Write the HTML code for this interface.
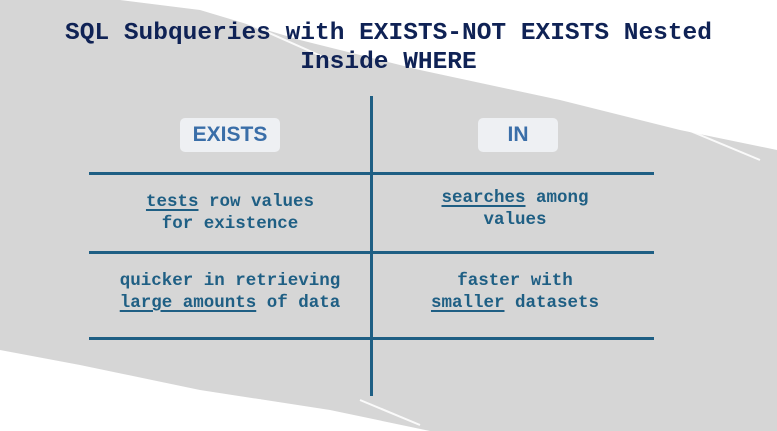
<!DOCTYPE html>
<html><head><style>
body{margin:0;width:777px;height:431px;overflow:hidden;background:#fff;position:relative;font-family:"Liberation Mono",monospace;}
.t{position:absolute;left:0;width:777px;text-align:center;color:#0f2255;font-weight:bold;font-size:24.5px;line-height:30px}
.h{position:absolute;background:#eef0f3;border-radius:5px;color:#3a6ea8;font-family:"Liberation Sans Narrow","Liberation Sans",sans-serif;font-weight:bold;font-size:21px;text-align:center;line-height:34px;height:34px;top:118px}
.c{position:absolute;color:#1f5f84;font-weight:bold;font-size:17.5px;line-height:22px;text-align:center;width:270px}
.c u{text-decoration-thickness:2px;text-underline-offset:3px}
.l{position:absolute;background:#1f5f84}
</style></head><body>
<svg width="777" height="431" style="position:absolute;left:0;top:0">
<polygon points="0,0 120,0 200,10 300,40 420,70 560,100 680,130 777,150 777,431 430,431 330,410 200,390 80,365 0,350" fill="#d6d6d6"/>
<g stroke="#fff" stroke-width="2" opacity=".9">
<line x1="240" y1="20" x2="330" y2="60"/><line x1="500" y1="60" x2="620" y2="110"/><line x1="640" y1="110" x2="760" y2="160"/>
<line x1="20" y1="355" x2="140" y2="400"/><line x1="360" y1="400" x2="420" y2="425"/><line x1="260" y1="400" x2="330" y2="431"/>
</g>
</svg>
<div class="t" style="top:19px">SQL Subqueries with EXISTS-NOT EXISTS Nested</div>
<div class="t" style="top:48px">Inside WHERE</div>
<div class="h" style="left:180px;width:100px">EXISTS</div>
<div class="h" style="left:478px;width:80px">IN</div>
<div class="l" style="left:370px;top:96px;width:3px;height:300px"></div>
<div class="l" style="left:89px;top:172px;width:565px;height:3px"></div>
<div class="l" style="left:89px;top:251px;width:565px;height:3px"></div>
<div class="l" style="left:89px;top:337px;width:565px;height:3px"></div>
<div class="c" style="left:95px;top:191px"><u>tests</u> row values<br>for existence</div>
<div class="c" style="left:380px;top:187px"><u>searches</u> among<br>values</div>
<div class="c" style="left:95px;top:270px">quicker in retrieving<br><u>large amounts</u> of data</div>
<div class="c" style="left:380px;top:270px">faster with<br><u>smaller</u> datasets</div>
</body></html>
